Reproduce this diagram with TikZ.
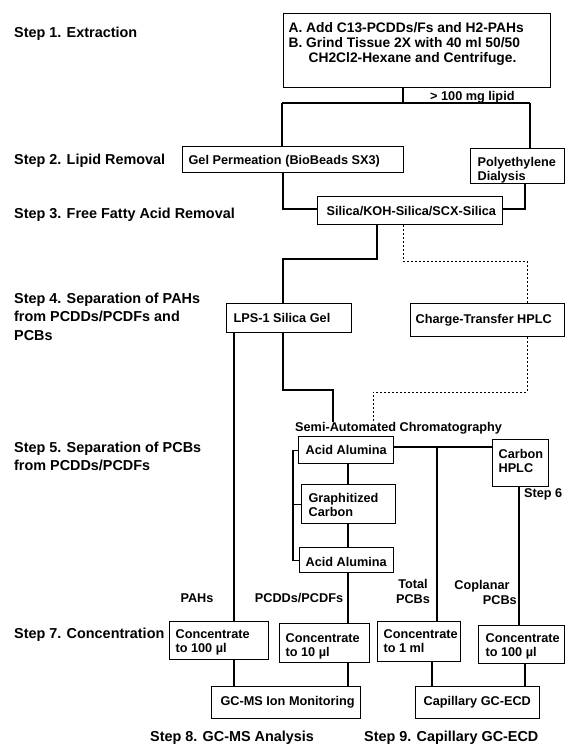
\documentclass[tikz,border=0pt]{standalone}
\usepackage{fontspec}
\setmainfont{Liberation Sans}
\newcommand\bt[5]{\parbox[c][#2pt][t]{#1pt}{\raggedright\leftskip=#3pt\relax\vspace*{#4pt}\strut #5\par}}
\begin{document}
\begin{tikzpicture}[
  x=1pt, y=-1pt,
  bx/.style={draw, line width=1.2pt, inner sep=0pt, anchor=north west, font=\fontsize{12.7}{14.7}\selectfont\bfseries},
  lbl/.style={inner sep=0pt, font=\fontsize{12.7}{14.7}\selectfont\bfseries},
  steplbl/.style={inner sep=0pt, anchor=north west, align=left, font=\fontsize{14.4}{18.5}\selectfont\bfseries},
  ln/.style={line width=1.15pt},
  dt/.style={line width=0.9pt, dash pattern=on 2pt off 2pt},
]
\useasboundingbox[fill=white] (0,0) rectangle (565,748);

% step labels
\node[steplbl] (s1) at (14,24.25) {\strut Step 1. Extraction};
\node[steplbl] (s2) at (14,151.25) {\strut Step 2. Lipid Removal};
\node[steplbl] (s3) at (14,205.25) {\strut Step 3. Free Fatty Acid Removal};
\node[steplbl] (s4) at (14,290.25) {\strut Step 4. Separation of PAHs\\from PCDDs/PCDFs and\\PCBs};
\node[steplbl] (s5) at (14,439.25) {\strut Step 5. Separation of PCBs\\from PCDDs/PCDFs};
\node[steplbl] (s7) at (14,625.25) {\strut Step 7. Concentration};
\node[steplbl] (s8) at (150,728.25) {\strut Step 8. GC-MS Analysis};
\node[steplbl] (s9) at (364,728.25) {\strut Step 9. Capillary GC-ECD};

% boxes
\node[bx] (box1) at (283,13) {\fontsize{13.8}{15}\selectfont\bt{267}{74}{5}{8.4}{A. Add C13-PCDDs/Fs and H2-PAHs\\B. Grind Tissue 2X with 40 ml 50/50\\\hspace*{20pt}CH2Cl2-Hexane and Centrifuge.}};
\node[bx] (gel) at (182,146) {\bt{221}{26}{6}{7.35}{Gel Permeation (BioBeads SX3)}};
\node[bx] (poly) at (470,148) {\bt{94}{35}{7}{7.35}{Polyethylene\\Dialysis}};
\node[bx] (silica) at (317,196) {\bt{185}{28}{9}{8.35}{Silica/KOH-Silica/SCX-Silica}};
\node[bx] (lps) at (226,303) {\bt{125}{29}{7}{8.35}{LPS-1 Silica Gel}};
\node[bx] (ct) at (410,303) {\bt{154}{33}{5}{9.35}{Charge-Transfer HPLC}};
\node[bx] (acid1) at (298,436) {\bt{95}{27}{7}{7.35}{Acid Alumina}};
\node[bx] (graph) at (301,484) {\bt{94}{39}{7}{7.35}{Graphitized\\Carbon}};
\node[bx] (acid2) at (299,547) {\bt{94}{25}{6}{8.35}{Acid Alumina}};
\node[bx] (carbon) at (492,439) {\bt{56}{47}{6}{8.35}{Carbon\\HPLC}};
\node[bx] (conc1) at (169,621) {\bt{99}{38}{6}{6.35}{Concentrate\\to 100 µl}};
\node[bx] (conc2) at (279,623) {\bt{90}{39}{6}{8.35}{Concentrate\\to 10 µl}};
\node[bx] (conc3) at (377,621) {\bt{83}{40}{6}{6.35}{Concentrate\\to 1 ml}};
\node[bx] (conc4) at (478,625) {\bt{86}{38}{7}{6.35}{Concentrate\\to 100 µl}};
\node[bx] (gcms) at (211,686) {\bt{149}{32}{9}{8.35}{GC-MS Ion Monitoring}};
\node[bx] (cap) at (415,686) {\bt{124}{32}{8}{8.35}{Capillary GC-ECD}};

% small labels
\node[lbl, anchor=base west] (lipid) at (430,100.5) {> 100 mg lipid};
\node[lbl, anchor=base west] (semi) at (295,431.5) {Semi-Automated Chromatography};
\node[lbl, anchor=base west] (st6) at (524,497.5) {Step 6};
\node[lbl, anchor=base] (pahs) at (197,602.5) {PAHs};
\node[lbl, anchor=base] (pcdd) at (299,602.5) {PCDDs/PCDFs};
\node[lbl, anchor=north, align=center] (tot) at (413,578.35) {\strut Total\\PCBs};
\node[lbl, anchor=base] (copl) at (482,589.5) {Coplanar};
\node[lbl, anchor=base east] (copb) at (517,604.5) {PCBs};

% connector coordinates
\coordinate (j1) at (403,103);
\coordinate (jL) at (282,103);
\coordinate (jR) at (530,103);
\coordinate (k1) at (283,209);
\coordinate (k2) at (525,209);
\coordinate (m1) at (377,259);
\coordinate (m2) at (283,259);
\coordinate (d1) at (403,261);
\coordinate (d2) at (527,261);
\coordinate (p1) at (234,0);
\coordinate (q1) at (283,390);
\coordinate (q2) at (333,390);
\coordinate (r1) at (527,392);
\coordinate (r2) at (373,392);
\coordinate (s) at (348,0);
\coordinate (h1) at (0,447);
\coordinate (t1) at (437,447);
\coordinate (u1) at (519,0);
\coordinate (b) at (293,0);
\coordinate (v3) at (432,0);
\coordinate (v4) at (525,0);

% connectors
\draw[ln] (box1.south -| j1) -- (j1);
\draw[ln] (jL) -- (jR);
\draw[ln] (jL) -- (jL |- gel.north);
\draw[ln] (jR) -- (jR |- poly.north);
\draw[ln] (gel.south -| k1) |- (silica.west |- k1);
\draw[ln] (poly.south -| k2) |- (silica.east |- k2);
\draw[ln] (silica.south -| m1) -- (m1) -- (m2) -- (m2 |- lps.north);
\draw[dt] (silica.south -| d1) -- (d1) -- (d2) -- (d2 |- ct.north);
\draw[ln] (lps.south -| p1) -- (conc1.north -| p1);
\draw[ln] (lps.south -| q1) -- (q1) -- (q2) -- (q2 |- semi.north);
\draw[dt] (ct.south -| r1) -- (r1) -- (r2) -- (r2 |- semi.north);
\draw[ln] (acid1.south -| s) -- (graph.north -| s);
\draw[ln] (graph.south -| s) -- (acid2.north -| s);
\draw[ln] (acid2.south -| s) -- (conc2.north -| s);
\draw[ln] (acid1.east |- h1) -- (carbon.west |- h1);
\draw[ln] (t1) -- (t1 |- conc3.north);
\draw[ln] (carbon.south -| u1) -- (conc4.north -| u1);
\draw[ln] (acid1.west) -- (acid1.west -| b) -- (acid2.west -| b) -- (acid2.west);
\draw[ln] (graph.west) -- (graph.west -| b);
\draw[ln] (conc1.south -| p1) -- (gcms.north -| p1);
\draw[ln] (conc2.south -| s) -- (gcms.north -| s);
\draw[ln] (conc3.south -| v3) -- (cap.north -| v3);
\draw[ln] (conc4.south -| v4) -- (cap.north -| v4);
\end{tikzpicture}
\end{document}
